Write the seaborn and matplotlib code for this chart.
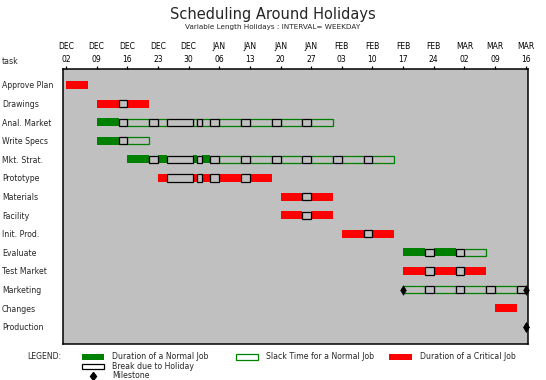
import matplotlib
matplotlib.use("Agg")
import matplotlib.pyplot as plt
import seaborn as sns
import pandas as pd
from matplotlib.patches import Rectangle
from matplotlib.lines import Line2D

# ---------------- data ----------------
tasks = ["Approve Plan", "Drawings", "Anal. Market", "Write Specs", "Mkt. Strat.",
         "Prototype", "Materials", "Facility", "Init. Prod.", "Evaluate",
         "Test Market", "Marketing", "Changes", "Production"]
early_start = ["1991-12-02", "1991-12-09", "1991-12-09", "1991-12-09", "1991-12-16",
               "1991-12-23", "1992-01-20", "1992-01-20", "1992-02-03", "1992-02-17",
               "1992-02-17", "1992-02-17", "1992-03-09", "1992-03-16"]
early_finish = ["1991-12-06", "1991-12-20", "1991-12-13", "1991-12-13", "1992-01-03",
                "1992-01-17", "1992-01-31", "1992-01-31", "1992-02-14", "1992-02-28",
                "1992-03-06", None, "1992-03-13", None]
late_finish = ["1991-12-06", "1991-12-20", "1992-01-31", "1991-12-20", "1992-02-14",
               "1992-01-17", "1992-01-31", "1992-01-31", "1992-02-14", "1992-03-06",
               "1992-03-06", "1992-03-16", "1992-03-13", "1992-03-16"]
critical = [True, True, False, False, False, True, True, True, True, False,
            True, False, True, True]
is_milestone = [False, False, False, False, False, False, False, False, False, False,
                False, True, False, True]
holiday_dates = ["1991-12-25", "1991-12-26", "1991-12-27", "1991-12-30", "1992-01-01"]
axis_start = "1991-12-02"
axis_end = "1992-03-16"

title = "Scheduling Around Holidays"
subtitle = "Variable Length Holidays : INTERVAL= WEEKDAY"

# ---------------- style ----------------
sns.set_theme(style="white")
plt.rcParams["font.family"] = ["DejaVu Sans"]

GRAY = "#C0C0C0"
GREEN = "#008000"
RED = "#FF0000"

W, H = 546, 380
fig = plt.figure(figsize=(W / 100, H / 100), dpi=100)
fig.patch.set_facecolor("white")

L, R, T, B = 63.3, 528.3, 69.3, 343.5
ax = fig.add_axes([L / W, 1 - B / H, (R - L) / W, (B - T) / H])
ax.set_facecolor(GRAY)

base = pd.Timestamp(axis_start)
hol = set(pd.to_datetime(holiday_dates))


def dnum(d):
    return (pd.Timestamp(d) - base).days


def runs(day_list, kind_fn):
    out = []
    for day in day_list:
        k = kind_fn(day)
        x = dnum(day)
        if out and out[-1][0] == k and out[-1][2] == x:
            out[-1][2] = x + 1
        else:
            out.append([k, x, x + 1])
    return out


bar_h = 0.43
ms_x, ms_y = [], []
for i, name in enumerate(tasks):
    es = pd.Timestamp(early_start[i])
    lf = pd.Timestamp(late_finish[i])
    if is_milestone[i]:
        days = pd.date_range(es, lf - pd.Timedelta(days=1)) if lf > es else []
        ef = es - pd.Timedelta(days=1)
        ms_x += [dnum(es), dnum(lf)]
        ms_y += [i, i]
    else:
        days = pd.date_range(es, lf)
        ef = pd.Timestamp(early_finish[i])

    def kind(day):
        if day.weekday() >= 5 or day in hol:
            return "break"
        return "dur" if day <= ef else "slack"

    segs = runs(days, kind)
    order = {"dur": 0, "slack": 1, "break": 2}
    for k, a, b in sorted(segs, key=lambda s: order[s[0]]):
        if k == "dur":
            ax.barh(i, b - a, left=a, height=bar_h, color=RED if critical[i] else GREEN,
                    linewidth=0, zorder=2)
        elif k == "slack":
            ax.barh(i, b - a, left=a, height=bar_h - 0.04, color=GRAY, edgecolor=GREEN,
                    linewidth=0.9, zorder=3)
        else:
            ax.barh(i, b - a, left=a, height=bar_h - 0.04, color=GRAY, edgecolor="black",
                    linewidth=0.9, zorder=4)

sc = sns.scatterplot(x=ms_x, y=ms_y, marker="d", s=24, color="black", edgecolor="black",
                     linewidth=0.4, ax=ax, zorder=6, legend=False)
for coll in ax.collections:
    coll.set_clip_on(False)

# axes
ax.set_xlim(-0.62, dnum(axis_end) + 0.6)
ax.set_ylim(len(tasks) - 0.1, -0.84)
ticks = pd.date_range(axis_start, axis_end, freq="7D")
ax.set_xticks([dnum(t) for t in ticks])
ax.set_xticklabels([f"{t.strftime('%b').upper()}\n{t.day:02d}" for t in ticks],
                   fontsize=5.5, linespacing=1.5)
ax.xaxis.tick_top()
ax.tick_params(axis="x", length=2.5, width=0.9, direction="out", pad=1.5,
               colors="black", top=True, bottom=False)
ax.set_yticks(range(len(tasks)))
ax.set_yticklabels(tasks, fontsize=5.6)
ax.tick_params(axis="y", length=0, pad=(L - 2) * 0.72)
for lab in ax.get_yticklabels():
    lab.set_ha("left")
for s in ax.spines.values():
    s.set_color("black")
    s.set_linewidth(1.1)
    s.set_visible(True)
ax.set_xlabel("")
ax.set_ylabel("")

# titles
fig.text(0.5, 1 - 15 / H, title, ha="center", va="center", fontsize=10.5)
fig.text(0.5, 1 - 27 / H, subtitle, ha="center", va="center", fontsize=5.2)
fig.text(2 / W, 1 - 61 / H, "task", ha="left", va="center", fontsize=5.6)


# legend (drawn in figure pixel coordinates)
def frect(x0, y0, x1, y1, **kw):
    fig.add_artist(Rectangle((x0 / W, 1 - y1 / H), (x1 - x0) / W, (y1 - y0) / H,
                             transform=fig.transFigure, **kw))


def ftext(x, y, s):
    fig.text(x / W, 1 - y / H, s, ha="left", va="center", fontsize=5.6)


ftext(27, 356.5, "LEGEND:")
frect(81.5, 353.8, 104.3, 359.5, facecolor=GREEN, linewidth=0)
ftext(112, 356.5, "Duration of a Normal Job")
frect(235.5, 353.8, 258, 359.5, facecolor="white", edgecolor=GREEN, linewidth=0.9)
ftext(266, 356.5, "Slack Time for a Normal Job")
frect(389, 353.8, 411.6, 359.5, facecolor=RED, linewidth=0)
ftext(419.7, 356.5, "Duration of a Critical Job")
frect(81.5, 363.8, 104.3, 368.5, facecolor="white", edgecolor="black", linewidth=0.9)
ftext(112, 366.3, "Break due to Holiday")
fig.add_artist(Line2D([92.8 / W], [1 - 375.8 / H], marker="d", markersize=4.5,
                      color="black", transform=fig.transFigure))
ftext(112, 375.8, "Milestone")

fig.savefig("out.png", dpi=100, facecolor="white")
